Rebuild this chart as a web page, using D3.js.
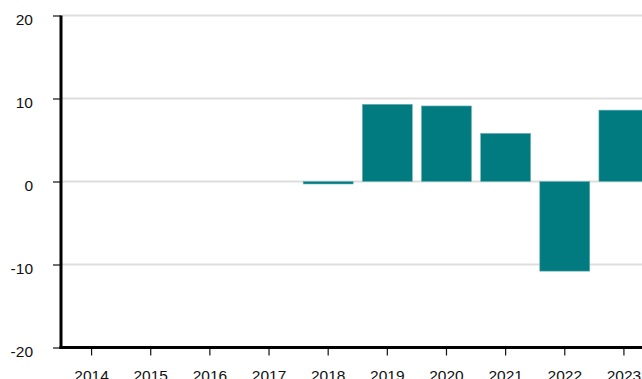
<!DOCTYPE html>
<html>
<head>
<meta charset="utf-8">
<script src="https://cdn.jsdelivr.net/npm/d3@7/dist/d3.min.js"></script>
<style>
  html, body { margin: 0; padding: 0; background: #fff; overflow: hidden; }
  svg { display: block; }
  .tick text { font-family: "Liberation Sans", Arial, sans-serif; font-size: 15.5px; fill: #111; }
</style>
</head>
<body>
<svg id="chart" width="642" height="379"></svg>
<script>
// Annual change by year
const years = ["2014", "2015", "2016", "2017", "2018", "2019", "2020", "2021", "2022", "2023"];
const values = [null, null, null, null, -0.3, 9.3, 9.1, 5.8, -10.8, 8.6];
const yTicks = [-20, -10, 0, 10, 20];

const svg = d3.select("#chart");
const W = 642, H = 379;
const plotLeft = 62, plotTop = 15.5, plotBottom = 347.5;

const x = d3.scaleBand()
  .domain(years)
  .range([plotLeft, plotLeft + 59.15 * years.length])
  .paddingInner(0.155)
  .paddingOuter(0.0775);

const y = d3.scaleLinear().domain([-20, 20]).range([plotBottom, plotTop]);

// horizontal grid lines
svg.append("g")
  .selectAll("line")
  .data(yTicks)
  .join("line")
  .attr("x1", plotLeft)
  .attr("x2", W)
  .attr("y1", d => y(d))
  .attr("y2", d => y(d))
  .attr("stroke", "#dedede")
  .attr("stroke-width", 2);

// bars
svg.append("g")
  .selectAll("rect")
  .data(years.map((yr, i) => ({ yr, v: values[i] })).filter(d => d.v !== null))
  .join("rect")
  .attr("x", d => x(d.yr))
  .attr("width", x.bandwidth())
  .attr("y", d => y(Math.max(0, d.v)))
  .attr("height", d => Math.abs(y(d.v) - y(0)))
  .attr("fill", "#017b80")
  .attr("stroke", "#6fb3b6")
  .attr("stroke-width", 0.6);

// y axis (plain hyphen for negative labels)
const yAxis = svg.append("g")
  .attr("transform", `translate(${plotLeft - 1},0)`)
  .call(d3.axisLeft(y).tickValues(yTicks).tickFormat(d => String(d)).tickSize(8).tickPadding(20));
yAxis.select(".domain").remove();
yAxis.selectAll(".tick line").attr("stroke", "#111").attr("stroke-width", 1.2);
yAxis.selectAll(".tick text").attr("dy", "0.55em").attr("text-anchor", "end");
svg.append("line")
  .attr("x1", plotLeft - 1).attr("x2", plotLeft - 1)
  .attr("y1", plotTop).attr("y2", plotBottom + 1.5)
  .attr("stroke", "#000").attr("stroke-width", 3);

// x axis
const xAxis = svg.append("g")
  .attr("transform", `translate(0,${plotBottom})`)
  .call(d3.axisBottom(x).tickSize(8).tickPadding(14));
xAxis.select(".domain").remove();
xAxis.selectAll(".tick line").attr("stroke", "#111").attr("stroke-width", 1.2);
svg.append("line")
  .attr("x1", plotLeft - 2.5).attr("x2", W)
  .attr("y1", plotBottom).attr("y2", plotBottom)
  .attr("stroke", "#000").attr("stroke-width", 3);
</script>
</body>
</html>
